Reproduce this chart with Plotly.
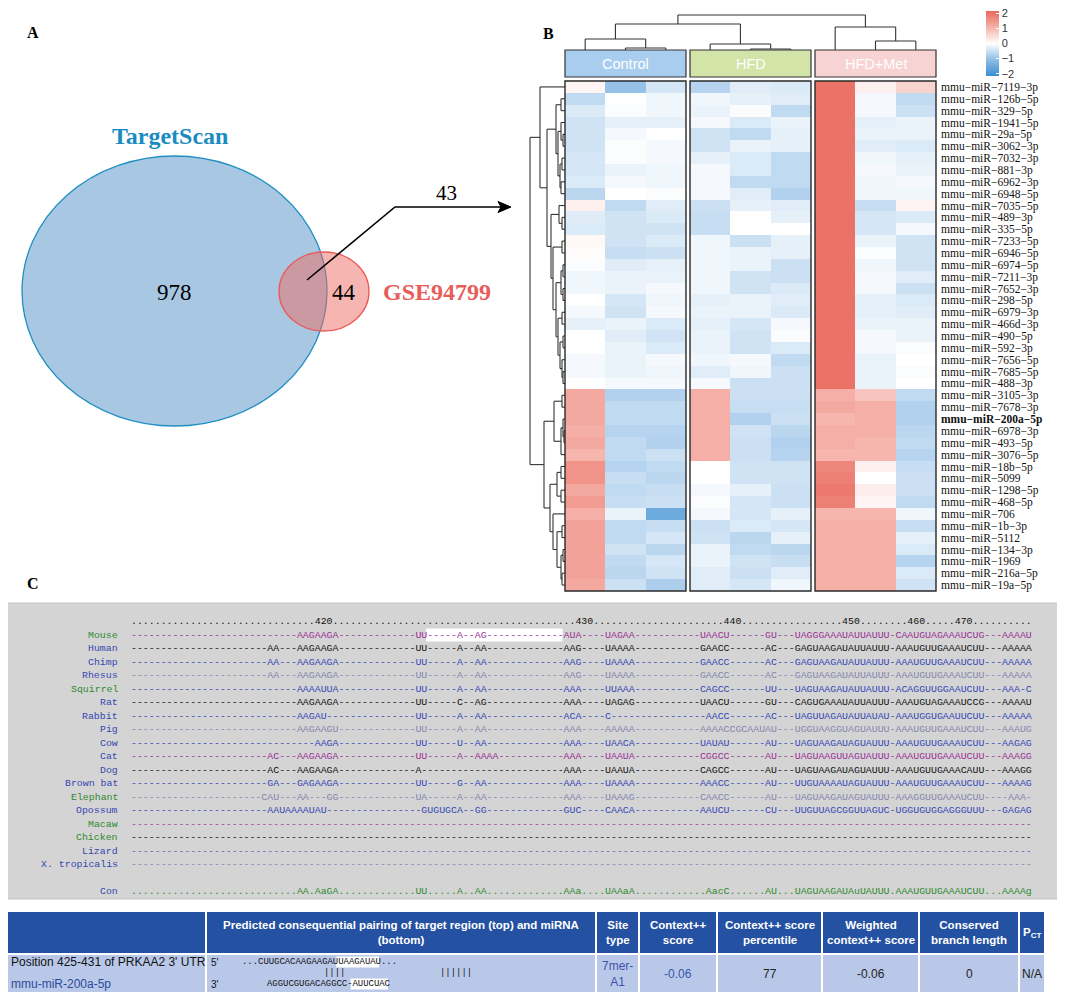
import plotly.graph_objects as go

W, H = 1065, 995
OFF = 8          # the page body margin: the figure starts 8 px from the window corner

# ====================== DATA ======================
# Panel A : Venn diagram counts
venn_names = ["TargetScan", "GSE94799"]
venn_values = [978, 44, 43]          # TargetScan only, GSE94799 only, overlap

# Panel B : heatmap (row z-scores)
groups = ["Control", "HFD", "HFD+Met"]
group_colors = ["#a9cdef", "#d2e4a8", "#f8d3d3"]
mirna = ["7119-3p", "126b-5p", "329-5p", "1941-5p", "29a-5p", "3062-3p", "7032-3p",
         "881-3p", "6962-3p", "6948-5p", "7035-5p", "489-3p", "335-5p", "7233-5p",
         "6946-5p", "6974-5p", "7211-3p", "7652-3p", "298-5p", "6979-3p", "466d-3p",
         "490-5p", "592-3p", "7656-5p", "7685-5p", "488-3p", "3105-3p", "7678-3p",
         "200a-5p", "6978-3p", "493-5p", "3076-5p", "18b-5p", "5099", "1298-5p",
         "468-5p", "706", "1b-3p", "5112", "134-3p", "1969", "216a-5p", "19a-5p"]
ctrl = [[0.15, -1.0, -0.4], [-0.6, 0.0, -0.15], [-0.35, -0.05, -0.15], [-0.45, -0.25, -0.25],
        [-0.45, -0.1, 0.0], [-0.45, -0.05, -0.1], [-0.4, -0.05, -0.1], [-0.4, -0.2, -0.15],
        [-0.35, -0.1, -0.15], [-0.65, 0.0, -0.05], [0.2, -0.6, -0.3], [-0.3, -0.45, -0.35],
        [-0.35, -0.45, -0.45], [0.1, -0.45, -0.35], [0.05, -0.55, -0.5], [-0.05, -0.3, -0.25],
        [-0.15, -0.2, -0.2], [-0.15, -0.2, -0.1], [0.0, -0.4, -0.15], [-0.1, -0.45, -0.1],
        [-0.25, -0.2, -0.35], [0.0, -0.3, -0.45], [0.0, -0.2, -0.35], [-0.1, -0.2, -0.1],
        [-0.1, -0.2, -0.15], [0.0, -0.1, -0.1], [1.2, -0.75, -0.75], [1.2, -0.6, -0.6],
        [1.2, -0.6, -0.6], [1.1, -0.7, -0.7], [1.2, -0.6, -0.75], [1.0, -0.6, -0.5],
        [1.5, -0.7, -0.6], [1.5, -0.55, -0.65], [1.2, -0.6, -0.55], [1.4, -0.55, -0.5],
        [1.1, -0.2, -1.5], [1.3, -0.6, -0.55], [1.3, -0.6, -0.4], [1.3, -0.45, -0.65],
        [1.3, -0.6, -0.4], [1.3, -0.65, -0.45], [1.2, -0.5, -0.8]]
hfd = [[-0.7, -0.3, -0.35], [-0.15, -0.25, -0.3], [-0.2, -0.05, -0.6], [-0.1, -0.35, -0.2],
       [-0.45, -0.6, -0.25], [-0.45, -0.2, -0.25], [-0.25, -0.35, -0.6], [-0.1, -0.35, -0.6],
       [-0.1, -0.6, -0.6], [-0.1, -0.3, -0.75], [-0.5, -0.25, -0.3], [-0.55, 0.0, -0.25],
       [-0.55, 0.0, 0.0], [-0.15, -0.5, -0.25], [-0.15, -0.2, -0.25], [-0.15, -0.2, -0.5],
       [-0.15, -0.45, -0.5], [-0.15, -0.45, -0.35], [-0.25, -0.2, -0.3], [-0.2, -0.2, -0.35],
       [-0.25, -0.4, -0.1], [-0.2, -0.45, -0.05], [-0.2, -0.45, -0.35], [-0.15, -0.1, -0.6],
       [-0.3, -0.15, -0.5], [-0.1, -0.5, -0.5], [1.1, -0.5, -0.5], [1.1, -0.55, -0.55],
       [1.1, -0.75, -0.5], [1.1, -0.45, -0.65], [1.1, -0.5, -0.75], [1.1, -0.5, -0.7],
       [0.0, -0.45, -0.45], [0.0, -0.45, -0.45], [-0.1, -0.25, -0.5], [-0.05, -0.4, -0.5],
       [-0.1, -0.4, -0.25], [-0.5, -0.35, -0.4], [-0.45, -0.65, -0.25], [-0.2, -0.6, -0.65],
       [-0.2, -0.45, -0.55], [-0.3, -0.5, -0.3], [-0.3, -0.4, -0.15]]
hfd_met = [[2.0, 0.2, 0.6], [2.0, -0.1, -0.6], [2.0, -0.1, -0.5], [2.0, -0.25, -0.2],
           [2.0, -0.2, -0.2], [2.0, -0.3, -0.35], [2.0, -0.15, -0.25], [2.0, -0.1, -0.2],
           [2.0, -0.15, -0.1], [2.0, -0.15, -0.15], [2.0, -0.55, 0.15], [2.0, -0.4, -0.35],
           [2.0, -0.4, -0.1], [2.0, -0.2, -0.45], [2.0, -0.05, -0.45], [2.0, -0.15, -0.45],
           [2.0, -0.1, -0.3], [2.0, -0.1, -0.5], [2.0, -0.25, -0.35], [2.0, -0.25, -0.3],
           [2.0, -0.2, -0.2], [2.0, -0.1, -0.2], [2.0, -0.1, -0.05], [2.0, -0.2, 0.0],
           [2.0, -0.2, -0.05], [2.0, -0.2, 0.0], [1.1, 0.8, -0.6], [1.2, 1.1, -0.75],
           [1.0, 1.1, -0.75], [1.1, 1.1, -0.65], [1.1, 1.0, -0.6], [1.0, 1.0, -0.7],
           [1.7, 0.2, -0.55], [1.8, 0.0, -0.5], [1.9, 0.25, -0.5], [1.8, 0.15, -0.6],
           [1.0, 1.0, -0.15], [1.1, 1.1, -0.55], [1.1, 1.1, -0.25], [1.1, 1.1, -0.35],
           [1.1, 1.1, -0.7], [1.1, 1.1, -0.35], [1.1, 1.1, -0.45]]
# dendrograms: (left, right, merge height); ints are leaf indices
col_tree = (((0, (1, 2, 2), 11), (3, (4, 5, 1), 6), 26), (6, (7, 8, 9), 23), 35)
row_tree = ((0, (((1, 2, 4), ((3, (4, 5, 2), 4), ((6, 7, 3), (8, 9, 4), 5), 7), 9),
                 ((10, (11, 12, 3), 6),
                  ((13, 14, 3), (((15, 16, 2), (17, 18, 2), 4),
                                 ((19, 20, 3), ((21, 22, 2), (23, (24, 25, 2), 3), 5), 7), 9), 12),
                  14), 18), 25),
            (((26, 27, 3), ((28, (29, 30, 1), 2), 31, 4), 11),
             (((32, 33, 4), (34, 35, 4), 8), (36, ((37, 38, 3), ((39, 40, 2), (41, 42, 3), 4), 8), 12), 15),
             21),
            35)

# Panel C : multiple alignment
ruler = "." * 31 + "420" + "." * 41 + "430" + "." * 22 + "440" + "." * 17 + "450" + "." * 8 + "460" + "." * 5 + "470" + "." * 10
species = ["Mouse", "Human", "Chimp", "Rhesus", "Squirrel", "Rat", "Rabbit", "Pig", "Cow", "Cat",
           "Dog", "Brown bat", "Elephant", "Opossum", "Macaw", "Chicken", "Lizard", "X. tropicalis"]
label_colors = ["#2f8a2f", "#3548b0", "#3548b0", "#3548b0", "#2f8a2f", "#3548b0", "#3548b0",
                "#3548b0", "#3548b0", "#3548b0", "#3548b0", "#3548b0", "#2f8a2f", "#3548b0",
                "#2f8a2f", "#2f8a2f", "#3548b0", "#3548b0"]
seq_colors = ["#9a2f96", "#111111", "#3546b4", "#8585b0", "#3546b4", "#111111", "#3546b4",
              "#8585b0", "#3546b4", "#9a2f96", "#111111", "#3546b4", "#8585b0", "#3546b4",
              "#a33a9e", "#111111", "#5b66c4", "#8585b0"]
sequences = [
    "-" * 28 + "AAGAAGA" + "-" * 13 + "UU-----A--AG" + "-" * 13 + "AUA----UAGAA" + "-" * 11 + "UAACU------GU---UAGGGAAAUAUUAUUU-CAAUGUAGAAAUCUG---AAAAU",
    "-" * 23 + "AA---AAGAAGA" + "-" * 13 + "UU-----A--AA" + "-" * 13 + "AAG----UAAAA" + "-" * 11 + "GAACC------AC---GAGUAAGAUAUUAUUU-AAAUGUUGAAAUCUU---AAAAA",
    "-" * 23 + "AA---AAGAAGA" + "-" * 13 + "UU-----A--AA" + "-" * 13 + "AAG----UAAAA" + "-" * 11 + "GAACC------AC---GAGUAAGAUAUUAUUU-AAAUGUUGAAAUCUU---AAAAA",
    "-" * 23 + "AA---AAGAAGA" + "-" * 13 + "UU-----A--AA" + "-" * 13 + "AAG----UAAAA" + "-" * 11 + "GAACC------AC---GAGUAAGAUAUUAUUU-AAAUGUUGAAAUCUU---AAAAA",
    "-" * 28 + "AAAAUUA" + "-" * 13 + "UU-----A--AA" + "-" * 13 + "AAA----UUAAA" + "-" * 11 + "CAGCC------UU---UAGUAAGAUAUUAUUU-ACAGGUUGGAAUCUU---AAA-C",
    "-" * 28 + "AAGAAGA" + "-" * 13 + "UU-----C--AG" + "-" * 13 + "AAA----UAGAG" + "-" * 11 + "UAACU------GU---CAGUGAAAUAUUAUUU-AAAUGUAGAAAUCCG---AAAAU",
    "-" * 28 + "AAGAU" + "-" * 15 + "UU-----A--AA" + "-" * 13 + "ACA----C" + "-" * 16 + "AACC------AC---UAGUUAGAUAUUAUAU-AAAUGGUGAAUUCUU---AAAAA",
    "-" * 28 + "AAGAAGU" + "-" * 13 + "UU-----A--AA" + "-" * 13 + "AAA----AAAAA" + "-" * 11 + "AAAACCGCAAUAU---UGGUAAGGUAGUAUUU-AAAUGUUGAAAUCUU---AAAUG",
    "-" * 31 + "AAGA" + "-" * 13 + "UU-----U--AA" + "-" * 13 + "AAA----UAACA" + "-" * 11 + "UAUAU------AU---UAGUAAGAUAGUAUUU-AAAUGUUGAAAUCUU---AAGAG",
    "-" * 23 + "AC---AAGAAGA" + "-" * 13 + "UU-----A--AAAA" + "-" * 11 + "AAA----UAAUA" + "-" * 11 + "CGGCC------AU---UAGUAAGUUAGUAUUU-AAAUGUUGAAAUCUU---AAAGG",
    "-" * 23 + "AC---AAGAAGA" + "-" * 13 + "A" + "-" * 24 + "AAA----UAAUA" + "-" * 11 + "CAGCC------AU---UAGUAAGAUAGUAUUU-AAAUGUUGAAACAUU---AAAGG",
    "-" * 23 + "GA---GAGAAGA" + "-" * 13 + "UU-----G--AA" + "-" * 13 + "AAA----UAAAA" + "-" * 11 + "AAACC------AU---UUGUAAAAUAGUAUUU-AAAUGUUGAAAUCUU---AAAAG",
    "-" * 22 + "CAU---AA---GG" + "-" * 13 + "UA-----A--AA" + "-" * 13 + "AAA----UAAAG" + "-" * 11 + "CAACC------AU---UAGUAAGAUAGUAUUU-AAAGGUUGAAAUCUU----AAA-",
    "-" * 23 + "AAUAAAAUAU" + "-" * 16 + "GUGUGCA--GG" + "-" * 13 + "GUC----CAACA" + "-" * 11 + "AAUCU------CU---UUGUUAGCGGUUAGUC-UGGUGUGGAGGGUUU---GAGAG",
    "-" * 152,
    "-" * 152,
    "-" * 152,
    "-" * 152,
]
consensus = "." * 28 + "AA.AaGA" + "." * 13 + "UU.....A..AA" + "." * 13 + "AAa....UAAaA" + "." * 12 + "AacC......AU...UAGUAAGAUAuUAUUU.AAAUGUUGAAAUCUU...AAAAg"
mouse_site_cols = [50, 73]

# Table
table_header = ["", "Predicted consequential pairing of target region (top) and miRNA<br>(bottom)",
                "Site<br>type", "Context++<br>score", "Context++ score<br>percentile",
                "Weighted<br>context++ score", "Conserved<br>branch length", "P<sub>CT</sub>"]
table_values = ["", "", "7mer-<br>A1", "-0.06", "77", "-0.06", "0", "N/A"]
table_value_colors = ["#000", "#000", "#3a55a8", "#3a55a8", "#222", "#222", "#222", "#222"]
site_label = "Position 425-431 of PRKAA2 3' UTR"
site_mirna = "mmu-miR-200a-5p"
utr_seq = "...CUUGCACAAGAAGAUUAAGAUAU..."
mir_seq = "AGGUCGUGACAGGCC-AUUCUAC"

# ====================== FIGURE ======================
SERIF = "Liberation Serif"
SANS = "Liberation Sans"
MONO = "Liberation Mono"


def fx(px):
    return (px - OFF) / (W - OFF)


def fy(py):
    return 1 - (py - OFF) / (H - OFF)


fig = go.Figure()
shapes, ann = [], []


def rect(x0, y0, x1, y1, fill, line=None, lw=0, layer="above"):
    shapes.append(dict(type="rect", xref="x", yref="y", x0=x0, y0=y0, x1=x1, y1=y1,
                       fillcolor=fill, line=dict(color=line or "rgba(0,0,0,0)", width=lw), layer=layer))


def text(x, y, s, size=12, color="#000", family=SANS, xanchor="center", yanchor="middle", **kw):
    ann.append(dict(xref="x", yref="y", x=x, y=y, text=s, showarrow=False, xanchor=xanchor,
                    yanchor=yanchor, font=dict(size=size, color=color, family=family), **kw))


# ---------- panel labels ----------
text(33, 32, "<b>A</b>", 16, family=SERIF)
text(548, 33, "<b>B</b>", 16, family=SERIF)
text(33, 583, "<b>C</b>", 16, family=SERIF)

# ---------- Panel A : Venn ----------
shapes.append(dict(type="circle", xref="x", yref="y", x0=22, x1=327, y0=156, y1=426,
                   fillcolor="#a8c7e2", line=dict(color="#1f8fc2", width=1.3)))
shapes.append(dict(type="circle", xref="x", yref="y", x0=279, x1=369, y0=252, y1=331,
                   fillcolor="rgba(238,108,98,0.50)", line=dict(color="#e85b5b", width=1.3)))
text(170, 136, "<b>%s</b>" % venn_names[0], 24, "#1a8cc0", SERIF)
text(437, 292, "<b>%s</b>" % venn_names[1], 24, "#e85d5a", SERIF)
text(174, 292, str(venn_values[0]), 23, "#000", SERIF)
text(344, 292, str(venn_values[1]), 23, "#000", SERIF)
text(446, 193, str(venn_values[2]), 21, "#000", SERIF)
shapes.append(dict(type="path", xref="x", yref="y", path="M307,280 L395,207 L503,207",
                   line=dict(color="#000", width=1.6)))
shapes.append(dict(type="path", xref="x", yref="y", path="M498,201.5 L511,207 L498,212.5 L501,207 Z",
                   fillcolor="#000", line=dict(color="#000", width=1)))

# ---------- Panel B : heatmap ----------
HX = [(565, 686), (690, 811), (815, 936)]
HT, HB = 81, 591
n = len(mirna)
for k, (data, (x0, x1)) in enumerate(zip([ctrl, hfd, hfd_met], HX)):
    fig.add_trace(go.Heatmap(z=data, x=[0, 1, 2], y=list(range(n)), xaxis="x%d" % (k + 2),
                             yaxis="y2", coloraxis="coloraxis", hoverinfo="skip"))
    rect(x0, HT, x1, HB, "rgba(0,0,0,0)", "#2a2a2a", 1.4)
    rect(x0, 50, x1, 77, group_colors[k], "#333", 1.2)
    text((x0 + x1) / 2, 64, groups[k], 14.5, "white", SANS)


def tree_segments(node, leaf_pos):
    if isinstance(node, int):
        return leaf_pos[node], 0, []
    l, r, h = node
    pl, hl, sl = tree_segments(l, leaf_pos)
    pr, hr, sr = tree_segments(r, leaf_pos)
    segs = sl + sr + [((pl, hl), (pl, h)), ((pr, hr), (pr, h)), ((pl, h), (pr, h))]
    return (pl + pr) / 2, h, segs


col_x = []
for (x0, x1) in HX:
    col_x += [x0 + (i + 0.5) * (x1 - x0) / 3 for i in range(3)]
row_y = [HT + (i + 0.5) * (HB - HT) / n for i in range(n)]

xs, ys = [], []
for (p0, h0), (p1, h1) in tree_segments(col_tree, col_x)[2]:
    xs += [p0, p1, None]
    ys += [50 - h0, 50 - h1, None]
for (p0, h0), (p1, h1) in tree_segments(row_tree, row_y)[2]:
    xs += [565 - h0, 565 - h1, None]
    ys += [p0, p1, None]
fig.add_trace(go.Scatter(x=xs, y=ys, mode="lines", line=dict(color="#333", width=1.1),
                         xaxis="x", yaxis="y", hoverinfo="skip", showlegend=False))

ticktext = []
for m in mirna:
    lab = ("mmu-miR-" + m).replace("-", "\u2212")
    ticktext.append("<b>%s</b>" % lab if m == "200a-5p" else lab)

# ---------- Panel C : alignment ----------
FS = 9.9
CW = FS * 0.6
X0 = 129
rect(3, 603, 1061, 899, "#d4d4d4", "#c4c4c4", 1, layer="below")
row_step = 13.5
y_first = 635
rect(X0 + mouse_site_cols[0] * CW, y_first - 6.5, X0 + mouse_site_cols[1] * CW, y_first + 6.5,
     "white", layer="below")
text(X0, 621, ruler, FS, "#111", MONO, xanchor="left")
for i, (sp, sq) in enumerate(zip(species, sequences)):
    y = y_first + i * row_step
    text(120, y, sp, FS, label_colors[i], MONO, xanchor="right")
    text(X0, y, sq, FS, seq_colors[i], MONO, xanchor="left")
text(120, 891, "Con", FS, "#3548b0", MONO, xanchor="right")
text(X0, 891, consensus, FS, "#2f8a2f", MONO, xanchor="left")

# ---------- Table ----------
edges = [(3, 205), (207, 595), (597, 638), (640, 716), (718, 821), (823, 918), (920, 1018), (1020, 1044)]
for j, (x0, x1) in enumerate(edges):
    rect(x0, 912, x1, 953, "#2451a2")
    rect(x0, 955, x1, 992, "#b9c8e8")
    if table_header[j]:
        text((x0 + x1) / 2, 932.5, "<b>%s</b>" % table_header[j], 11.5, "white", SANS)
    if table_values[j]:
        text((x0 + x1) / 2, 973.5, table_values[j], 12, table_value_colors[j], SANS)
text(9, 962, site_label, 12, "#111", SANS, xanchor="left")
text(9, 984, site_mirna, 12, "#2b4c9b", SANS, xanchor="left")
text(209, 962, "5'", 10, "#111", SANS, xanchor="left")
text(209, 984, "3'", 10, "#111", SANS, xanchor="left")
PW = 5.35
rect(240 + 18 * PW, 956.5, 240 + 26 * PW, 967.5, "white")
rect(265 + 16 * PW, 978.5, 265 + 23 * PW, 989.5, "white")
text(240, 962, utr_seq, PW / 0.6, "#111", MONO, xanchor="left")
text(265, 984, mir_seq, PW / 0.6, "#111", MONO, xanchor="left")
text(322, 973, "||||", PW / 0.6, "#111", MONO, xanchor="left")
text(438, 973, "||||||", PW / 0.6, "#111", MONO, xanchor="left")

# ====================== LAYOUT ======================
axis_off = dict(visible=False, showgrid=False, zeroline=False, fixedrange=True)
fig.update_layout(
    width=W - OFF, height=H - OFF, margin=dict(l=0, r=0, t=0, b=0, autoexpand=False),
    paper_bgcolor="white", plot_bgcolor="rgba(0,0,0,0)", showlegend=False,
    xaxis=dict(domain=[0, 1], range=[OFF, W], **axis_off),
    yaxis=dict(domain=[0, 1], range=[H, OFF], **axis_off),
    xaxis2=dict(domain=[fx(HX[0][0]), fx(HX[0][1])], range=[-0.5, 2.5], anchor="y2", **axis_off),
    xaxis3=dict(domain=[fx(HX[1][0]), fx(HX[1][1])], range=[-0.5, 2.5], anchor="y2", **axis_off),
    xaxis4=dict(domain=[fx(HX[2][0]), fx(HX[2][1])], range=[-0.5, 2.5], anchor="y2", **axis_off),
    yaxis2=dict(domain=[fy(HB), fy(HT)], range=[n - 0.5, -0.5], anchor="x4", side="right",
                tickvals=list(range(n)), ticktext=ticktext, showgrid=False, zeroline=False,
                showline=False, ticks="", ticklabelstandoff=4,
                tickfont=dict(family=SERIF, size=11.5, color="#111"), fixedrange=True),
    coloraxis=dict(cmin=-2.15, cmax=2.15,
                   colorscale=[[0, "#3a8dd2"], [0.25, "#8fbde6"], [0.5, "#ffffff"],
                               [0.75, "#f5b1a8"], [1, "#e8685b"]],
                   colorbar=dict(x=fx(986), xanchor="left", y=fy(11), yanchor="top",
                                 len=65, lenmode="pixels", thickness=13, thicknessmode="pixels",
                                 tickvals=[-2, -1, 0, 1, 2], ticks="inside", ticklen=3,
                                 tickcolor="white", outlinewidth=0, xpad=0, ypad=0,
                                 ticklabeloverflow="allow",
                                 tickfont=dict(family=SANS, size=11, color="#333"))),
    shapes=shapes, annotations=ann,
)

fig.write_html("out.html", config={"displayModeBar": False})
